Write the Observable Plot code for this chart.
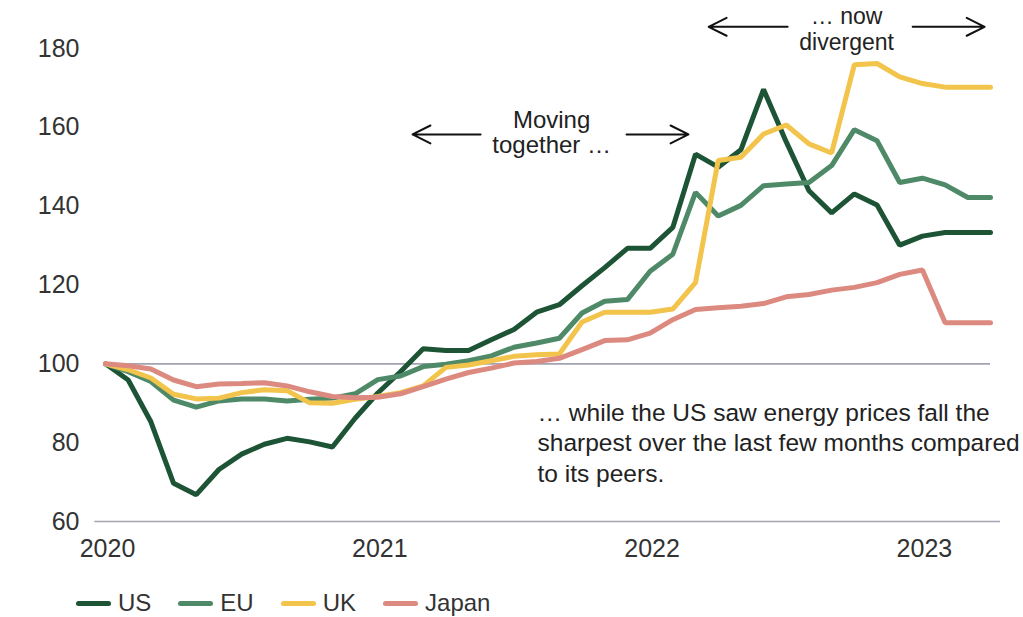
<!DOCTYPE html>
<html><head><meta charset="utf-8">
<script src="https://cdn.jsdelivr.net/npm/d3@7"></script>
<script src="https://cdn.jsdelivr.net/npm/@observablehq/plot@0.6"></script>
<style>
body{margin:0;background:#fff;font-family:"Liberation Sans",Arial,sans-serif;}
#chart{position:relative;width:1023px;height:617px;overflow:hidden;}
#legend{position:absolute;left:76px;top:586px;height:34px;display:flex;align-items:center;font-size:24px;color:#333;}
.item{display:flex;align-items:center;margin-right:27px}
.sw{width:35px;height:5px;border-radius:3px;margin-right:7px}
</style></head><body><div id="chart"></div>
<script>
const months = ["Jan 2020","Feb 2020","Mar 2020","Apr 2020","May 2020","Jun 2020","Jul 2020","Aug 2020","Sep 2020","Oct 2020","Nov 2020","Dec 2020",
  "Jan 2021","Feb 2021","Mar 2021","Apr 2021","May 2021","Jun 2021","Jul 2021","Aug 2021","Sep 2021","Oct 2021","Nov 2021","Dec 2021",
  "Jan 2022","Feb 2022","Mar 2022","Apr 2022","May 2022","Jun 2022","Jul 2022","Aug 2022","Sep 2022","Oct 2022","Nov 2022","Dec 2022",
  "Jan 2023","Feb 2023","Mar 2023","Apr 2023"];
const us = [100,95.9,85.3,69.7,66.8,73.2,77.1,79.6,81.1,80.2,78.9,86.2,
  92.6,98,103.8,103.4,103.4,106.1,108.7,113.1,115,119.8,124.4,129.3,
  129.3,134.6,153.2,149.9,154.3,169.6,156.3,143.9,138.3,143.1,140.3,130.1,
  132.4,133.3,133.3,133.3];
const eu = [100,98,95.5,90.8,89,90.6,91.1,91.1,90.6,91,91.3,92.4,
  96,96.9,99.3,99.9,100.8,102,104.2,105.3,106.5,112.9,115.9,116.3,
  123.5,127.8,143.5,137.5,140.2,145.2,145.6,146,150.3,159.4,156.6,146,
  147.1,145.4,142.2,142.2];
const uk = [100,98.5,96.4,92.3,91.1,91.3,92.7,93.4,93.2,90.1,90,91,
  91.7,92.7,94.4,99.1,99.7,100.8,101.9,102.3,102.5,110.6,113.1,113.1,
  113.1,113.9,120.6,151.6,152.4,158.3,160.6,155.8,153.5,175.9,176.2,172.8,
  171.1,170.2,170.2,170.2];
const japan = [100,99.5,98.7,95.9,94.2,94.9,95,95.2,94.4,92.9,91.7,91.4,
  91.5,92.4,94.2,96.1,97.8,98.9,100.2,100.6,101.4,103.6,105.9,106.1,
  107.8,111.2,113.8,114.2,114.6,115.3,117,117.6,118.7,119.4,120.6,122.7,
  123.8,110.4,110.4,110.4];
const seriesNames = ["US","EU","UK","Japan"];
const seriesColors = ["#1d5436","#4f8a68","#f2c44c","#dc8a80"];
const yTicks = [60,80,100,120,140,160,180];
const yearLabels = ["2020","2021","2022","2023"];

// annotations (month index, index value)
const notes = [
  {x:19.66, y:158.8, text:"Moving\ntogether …", anchor:"middle", lh:1.05, fs:24},
  {x:32.66, y:185.1, text:"… now\ndivergent", anchor:"middle", lh:1.13, fs:23},
  {x:19.04, y:80.3, text:"… while the US saw energy prices fall the\nsharpest over the last few months compared\nto its peers.", anchor:"start", lh:1.25, fs:24.5}
];
const arrows = [
  {x1:16.53, x2:13.53, y:158.2},
  {x1:22.96, x2:25.69, y:158.2},
  {x1:30.06, x2:26.58, y:185.5},
  {x1:35.57, x2:38.74, y:185.5}
];

const series = [us, eu, uk, japan];
const rows = [];
series.forEach((vals, k) => vals.forEach((v, i) => rows.push({series: seriesNames[k], month: months[i], i, v})));
const yearIdx = yearLabels.map(y => months.indexOf("Jan " + y));

const plot = Plot.plot({
  width: 1023, height: 570,
  marginLeft: 105, marginRight: 33, marginTop: 48, marginBottom: 49,
  style: {fontFamily: "'Liberation Sans', Arial, sans-serif", fontSize: "24px", color: "#333", background: "transparent", overflow: "visible"},
  x: {type: "linear", domain: [0, months.length - 1], axis: null},
  y: {domain: [60, 180], axis: null},
  color: {domain: seriesNames, range: seriesColors},
  marks: [
    Plot.axisY(yTicks, {tickSize: 0, tickPadding: 26, fontSize: 25, fill: "#333"}),
    Plot.axisX(yearIdx, {tickSize: 0, tickPadding: 18, fontSize: 25, fill: "#333", dx: 2, tickFormat: (d) => yearLabels[yearIdx.indexOf(d)]}),
    Plot.ruleY([60], {x1: -0.47, x2: 39.44, stroke: "#a2a2b0", strokeWidth: 1.6}),
    Plot.ruleY([100], {x1: 0, x2: 39, stroke: "#a2a2b0", strokeWidth: 1.6}),
    Plot.line(rows, {x: "i", y: "v", z: "series", stroke: "series", strokeWidth: 5, strokeLinejoin: "miter", strokeLinecap: "round"}),
    ...notes.map(n => Plot.text([n], {x: "x", y: "y", text: "text", textAnchor: n.anchor, lineAnchor: "middle", lineHeight: n.lh, fontSize: n.fs, fill: "#222"})),
    Plot.arrow(arrows, {x1: "x1", x2: "x2", y1: "y", y2: "y", stroke: "#111", strokeWidth: 2, headAngle: 53, headLength: 15})
  ]
});
document.getElementById("chart").appendChild(plot);

const legend = document.createElement("div");
legend.id = "legend";
seriesNames.forEach((name, k) => {
  const it = document.createElement("div");
  it.className = "item";
  const sw = document.createElement("span");
  sw.className = "sw";
  sw.style.background = seriesColors[k];
  const lab = document.createElement("span");
  lab.textContent = name;
  it.appendChild(sw); it.appendChild(lab);
  legend.appendChild(it);
});
document.getElementById("chart").appendChild(legend);
</script></body></html>
